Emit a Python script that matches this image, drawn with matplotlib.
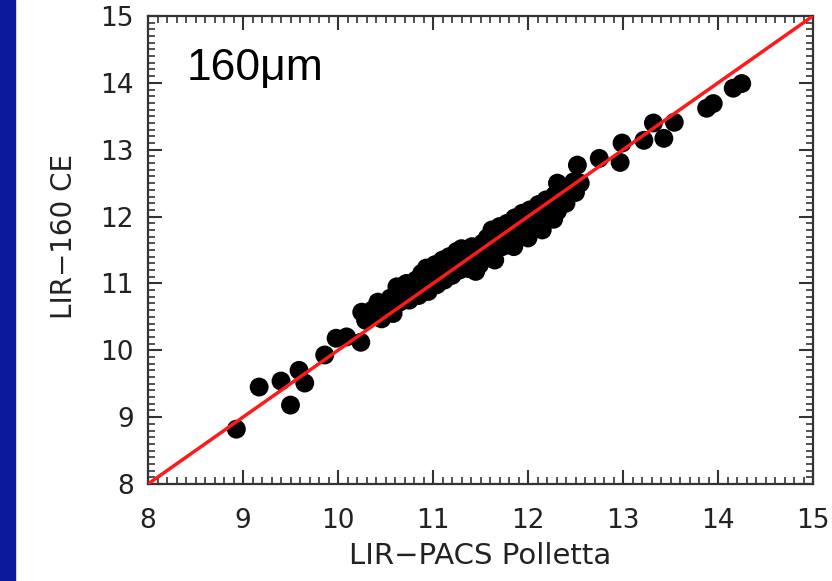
import matplotlib
matplotlib.use('Agg')
import matplotlib.pyplot as plt
from matplotlib.patches import Rectangle
from matplotlib.ticker import MultipleLocator

plt.rcParams['font.family'] = ['DejaVu Sans']

# LIR from PACS (Polletta) vs LIR from 160um CE templates
lir_pacs = [
    8.93, 9.17, 9.40, 9.50, 9.59, 9.65, 9.86, 9.98, 10.09, 10.24, 10.29,
    10.25, 10.30, 10.36, 10.42, 10.46, 10.50, 10.55, 10.58,
    10.62, 10.65, 10.68, 10.72, 10.75, 10.78, 10.82, 10.85, 10.88, 10.90, 10.93, 10.95, 10.98,
    11.02, 11.04, 11.07, 11.10, 11.12, 11.15, 11.17, 11.20, 11.23, 11.25, 11.28, 11.30, 11.33,
    11.36, 11.38, 11.41, 11.44, 11.47, 11.49, 11.52,
    11.55, 11.57, 11.60, 11.63, 11.65, 11.68, 11.70, 11.73, 11.76, 11.78, 11.81, 11.84, 11.86,
    11.88, 11.91, 11.94, 11.96, 11.99,
    12.02, 12.05, 12.08, 12.11, 12.13, 12.16, 12.19, 12.22, 12.25, 12.28, 12.31, 12.34, 12.37,
    12.40, 12.44, 12.48, 12.50, 12.55,
    11.65, 11.85, 12.00, 12.15, 12.27, 11.45, 11.62,
    12.31, 12.52, 12.49, 12.75, 12.99, 12.97, 13.22, 13.32, 13.43, 13.54, 13.88, 13.95, 14.16, 14.25,
]
lir_160 = [
    8.82, 9.45, 9.54, 9.18, 9.70, 9.51, 9.93, 10.18, 10.20, 10.12, 10.45,
    10.57, 10.45, 10.60, 10.72, 10.47, 10.60, 10.78, 10.55,
    10.95, 10.72, 10.85, 11.00, 10.75, 10.92, 11.05, 10.82, 11.15, 10.95, 11.23, 10.88, 11.08,
    11.28, 10.98, 11.15, 11.35, 11.05, 11.25, 11.40, 11.12, 11.32, 11.48, 11.20, 11.52, 11.30,
    11.45, 11.22, 11.55, 11.35, 11.50, 11.28, 11.60,
    11.42, 11.68, 11.52, 11.40, 11.72, 11.58, 11.85, 11.55, 11.72, 11.90, 11.65, 11.80, 11.98,
    11.70, 11.88, 12.05, 11.75, 11.92,
    12.10, 11.85, 12.00, 12.18, 11.92, 12.08, 12.25, 12.02, 12.15, 12.32, 12.08, 12.25, 12.42,
    12.20, 12.35, 12.52, 12.36, 12.50,
    11.35, 11.55, 11.68, 11.80, 11.96, 11.18, 11.80,
    12.50, 12.77, 12.39, 12.87, 13.10, 12.81, 13.14, 13.40, 13.17, 13.41, 13.62, 13.69, 13.92, 13.99,
]
one_to_one = [8, 15]

fig = plt.figure(figsize=(8.32, 5.81), dpi=100)
fig.patches.append(Rectangle((0, 0), 15 / 832, 1, transform=fig.transFigure,
                             color='#0b1a9c', zorder=0))

ax = fig.add_axes([148 / 832, 97 / 581, 665 / 832, 468 / 581])
ax.scatter(lir_pacs, lir_160, s=185, c='black', edgecolors='none', zorder=2)
ax.plot(one_to_one, one_to_one, color='#ff1a1a', lw=2.5, zorder=3)

ax.set_xlim(8, 15)
ax.set_ylim(8, 15)
ax.xaxis.set_major_locator(MultipleLocator(1))
ax.yaxis.set_major_locator(MultipleLocator(1))
ax.xaxis.set_minor_locator(MultipleLocator(0.1))
ax.yaxis.set_minor_locator(MultipleLocator(0.1))
ax.tick_params(which='both', direction='in', top=True, right=True,
               colors='#333333', labelcolor='#222222', labelsize=19)
ax.tick_params(which='major', length=10, width=1.5)
ax.tick_params(which='minor', length=5, width=1.2)
ax.tick_params(axis='x', which='major', pad=17)
ax.tick_params(axis='y', which='major', pad=10)
for sp in ax.spines.values():
    sp.set_linewidth(1.6)
    sp.set_color('#333333')

ax.set_xlabel('LIR\u2212PACS Polletta', fontsize=21, color='#222222', labelpad=6)
ax.set_ylabel('LIR\u2212160 CE', fontsize=20, color='#222222')
ax.yaxis.set_label_coords(-0.105, 0.53)

fig.text(187 / 832, 1 - 80 / 581, '160\u03bcm', fontsize=32, color='black',
         family='Liberation Sans')

plt.savefig('out.png', dpi=100)
